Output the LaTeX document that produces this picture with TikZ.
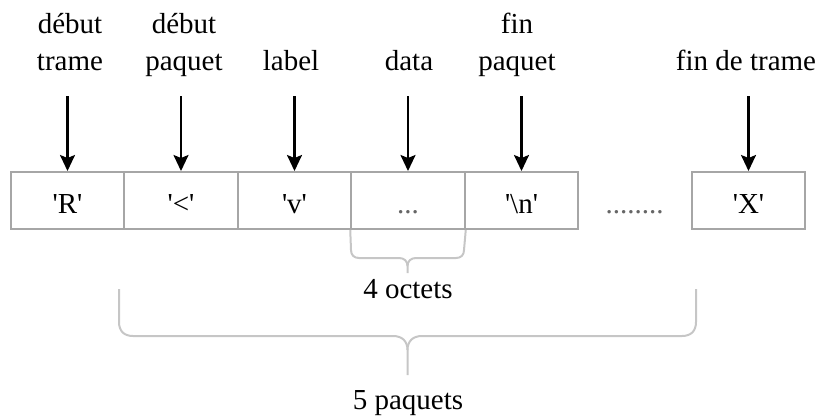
\documentclass[tikz,border=0pt]{standalone}
\usepackage{fontspec}
\setmainfont{Liberation Serif}
\usetikzlibrary{arrows.meta}
\definecolor{boxgray}{HTML}{A6A6A6}
\definecolor{bracegray}{HTML}{C6C6C6}
\begin{document}
\begin{tikzpicture}[x=1pt,y=-1pt,
  every node/.style={font=\fontsize{29}{37}\selectfont, inner sep=0pt},
  cell/.style={draw=boxgray, line width=2pt, minimum width=113.5pt, minimum height=57pt,
    text height=25pt, text depth=0pt},
  blank/.style={minimum width=113.5pt, minimum height=57pt, text height=25pt, text depth=0pt},
  lbl/.style={align=center, anchor=base},
  arr/.style={line width=2.2pt, -{Stealth[length=16pt,width=15pt,inset=3pt]}},
  brace/.style={draw=bracegray, line width=2pt, line join=round}]
\useasboundingbox (0,0) rectangle (821,416);
% cells
\node[cell]  (b1) at (67.5,200.5)  {\textquotesingle R\textquotesingle};
\node[cell]  (b2) at (181,200.5)   {\textquotesingle<\textquotesingle};
\node[cell]  (b3) at (294.5,200.5) {\textquotesingle v\textquotesingle};
\node[cell]  (b4) at (408,200.5)   {\textcolor{black!60}{...}};
\node[cell]  (b5) at (521.5,200.5) {\textquotesingle\textbackslash n\textquotesingle};
\node[blank] (b6) at (634.5,200.5) {\textcolor{black!60}{........}};
\node[cell]  (b7) at (748.5,200.5) {\textquotesingle X\textquotesingle};
% labels
\node[lbl] (t1) at (70,70)  {début\\trame};
\node[lbl] (t2) at (184,70) {début\\paquet};
\node[lbl] (t3) at (291,70) {label};
\node[lbl] (t4) at (409,70) {data};
\node[lbl] (t5) at (517,70) {fin\\paquet};
\node[lbl] (t6) at (746,70) {fin de trame};
% arrows
\foreach \i in {1,2,3,4,5,7}{
  \draw[arr] ([yshift=75pt]b\i.north) -- (b\i.north);
}
% small brace (data: 4 octets)
\draw[brace] (b4.south west) -- (351,250) .. controls (351,255) and (354,258) .. (359,258)
  -- (399,258) .. controls (404,258) and (407.5,261) .. (407.5,266) -- (407.5,273);
\draw[brace] (b4.south east) -- (464,250) .. controls (464,255) and (461,258) .. (456,258)
  -- (416,258) .. controls (411,258) and (407.5,261) .. (407.5,266);
\node[anchor=base] (oct) at (408,298) {4 octets};
% big brace (5 paquets)
\draw[brace] (119,289) -- (119,322) .. controls (119,331) and (124,336) .. (133,336)
  -- (393,336) .. controls (402,336) and (407.5,341) .. (407.5,350) -- (407.5,375);
\draw[brace] (696,289) -- (696,322) .. controls (696,331) and (691,336) .. (682,336)
  -- (422,336) .. controls (413,336) and (407.5,341) .. (407.5,350);
\node[anchor=base] (paq) at (408,409) {5 paquets};
\end{tikzpicture}
\end{document}
